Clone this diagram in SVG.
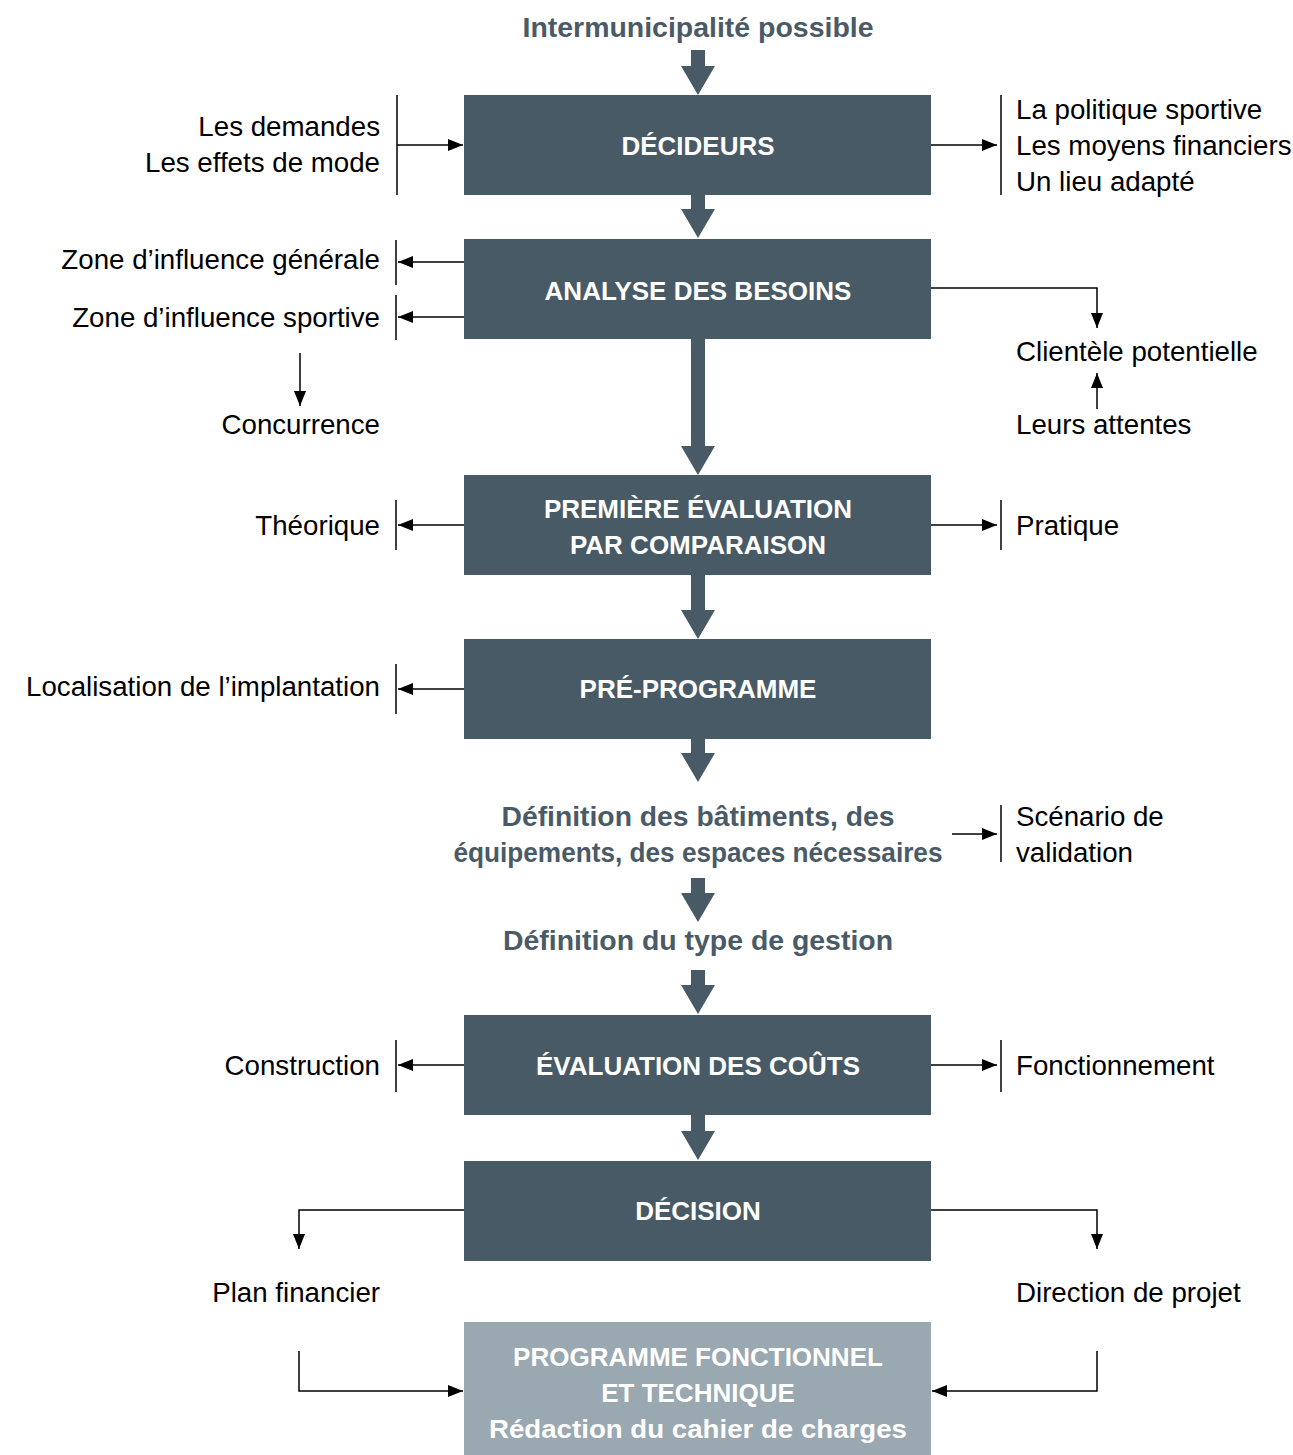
<svg xmlns="http://www.w3.org/2000/svg" width="1293" height="1455" viewBox="0 0 1293 1455">
<defs>
<marker id="ah" viewBox="0 0 15 12" refX="15" refY="6" markerWidth="15" markerHeight="12" markerUnits="userSpaceOnUse" orient="auto">
<path d="M0,0 L15,6 L0,12 z" fill="#000"/>
</marker>
<style>
.box{fill:#485a66}
.box2{fill:#9aa8b2}
.bt{font-family:"Liberation Sans",Arial,sans-serif;font-weight:bold;font-size:26px;fill:#fff;text-anchor:middle}
.lab{font-family:"Liberation Sans",Arial,sans-serif;font-size:27.7px;fill:#000}
.l{text-anchor:end}
.bl{font-family:"Liberation Sans",Arial,sans-serif;font-weight:bold;font-size:27px;fill:#4a5a67;text-anchor:middle}
.ln{stroke:#000;stroke-width:1.5;fill:none}
.ar{stroke:#000;stroke-width:1.5;fill:none;marker-end:url(#ah)}
.ta{fill:#485a66}
</style>
</defs>
<rect width="1293" height="1455" fill="#fff"/>

<g id="connectors">
<polygon class="ta" points="691,50 705,50 705,66 715,66 698,95 681,66 691,66"/>
<polygon class="ta" points="691,195 705,195 705,209 715,209 698,238 681,209 691,209"/>
<polygon class="ta" points="691,339 705,339 705,446 715,446 698,475 681,446 691,446"/>
<polygon class="ta" points="691,575 705,575 705,610 715,610 698,639 681,610 691,610"/>
<polygon class="ta" points="691,739 705,739 705,753 715,753 698,782 681,753 691,753"/>
<polygon class="ta" points="691,878 705,878 705,893 715,893 698,922 681,893 691,893"/>
<polygon class="ta" points="691,970 705,970 705,985 715,985 698,1014 681,985 691,985"/>
<polygon class="ta" points="691,1115 705,1115 705,1131 715,1131 698,1160 681,1131 691,1131"/>

<!-- row 1 -->
<line class="ln" x1="397" y1="95" x2="397" y2="195"/>
<line class="ar" x1="397" y1="145" x2="463" y2="145"/>
<line class="ar" x1="931" y1="145" x2="997" y2="145"/>
<line class="ln" x1="1001" y1="95" x2="1001" y2="195"/>

<!-- row 2 -->
<line class="ln" x1="396" y1="240" x2="396" y2="285"/>
<line class="ar" x1="464" y1="262" x2="398" y2="262"/>
<line class="ln" x1="396" y1="295" x2="396" y2="340"/>
<line class="ar" x1="464" y1="317" x2="398" y2="317"/>
<line class="ar" x1="300" y1="353" x2="300" y2="406"/>
<path class="ar" d="M931,288 H1097 V328"/>
<line class="ar" x1="1097" y1="409" x2="1097" y2="373"/>

<!-- row 3 -->
<line class="ln" x1="396" y1="500" x2="396" y2="550"/>
<line class="ar" x1="464" y1="525" x2="398" y2="525"/>
<line class="ar" x1="931" y1="525" x2="997" y2="525"/>
<line class="ln" x1="1001" y1="500" x2="1001" y2="550"/>

<!-- row 4 -->
<line class="ln" x1="396" y1="664" x2="396" y2="714"/>
<line class="ar" x1="464" y1="689" x2="398" y2="689"/>

<!-- scenario -->
<line class="ar" x1="952" y1="834" x2="997" y2="834"/>
<line class="ln" x1="1001" y1="805" x2="1001" y2="862"/>

<!-- row 5 -->
<line class="ln" x1="396" y1="1040" x2="396" y2="1092"/>
<line class="ar" x1="464" y1="1065" x2="398" y2="1065"/>
<line class="ar" x1="931" y1="1065" x2="997" y2="1065"/>
<line class="ln" x1="1001" y1="1040" x2="1001" y2="1092"/>

<!-- row 6 -->
<path class="ar" d="M464,1210 H299 V1249"/>
<path class="ar" d="M931,1210 H1097 V1249"/>
<path class="ar" d="M299,1351 V1391 H463"/>
<path class="ar" d="M1097,1351 V1391 H932"/>
</g>

<g id="title">
<text class="bl" x="698" y="37" textLength="351" lengthAdjust="spacingAndGlyphs">Intermunicipalité possible</text>
</g>

<g id="decideurs">
<rect class="box" x="464" y="95" width="467" height="100"/>
<text class="bt" x="698" y="155">DÉCIDEURS</text>
</g>
<g id="decideurs-in">
<text class="lab l" x="380" y="136">Les demandes</text>
<text class="lab l" x="380" y="172">Les effets de mode</text>
</g>
<g id="decideurs-out">
<text class="lab" x="1016" y="119">La politique sportive</text>
<text class="lab" x="1016" y="155">Les moyens financiers</text>
<text class="lab" x="1016" y="191">Un lieu adapté</text>
</g>

<g id="analyse">
<rect class="box" x="464" y="239" width="467" height="100"/>
<text class="bt" x="698" y="300">ANALYSE DES BESOINS</text>
</g>
<g id="zone-generale"><text class="lab l" x="380" y="269">Zone d’influence générale</text></g>
<g id="zone-sportive"><text class="lab l" x="380" y="327">Zone d’influence sportive</text></g>
<g id="concurrence"><text class="lab l" x="380" y="434">Concurrence</text></g>
<g id="clientele"><text class="lab" x="1016" y="361">Clientèle potentielle</text></g>
<g id="attentes"><text class="lab" x="1016" y="434">Leurs attentes</text></g>

<g id="premiere">
<rect class="box" x="464" y="475" width="467" height="100"/>
<text class="bt" x="698" y="518">PREMIÈRE ÉVALUATION</text>
<text class="bt" x="698" y="554">PAR COMPARAISON</text>
</g>
<g id="theorique"><text class="lab l" x="380" y="535">Théorique</text></g>
<g id="pratique"><text class="lab" x="1016" y="535">Pratique</text></g>

<g id="preprogramme">
<rect class="box" x="464" y="639" width="467" height="100"/>
<text class="bt" x="698" y="698">PRÉ-PROGRAMME</text>
</g>
<g id="localisation"><text class="lab l" x="380" y="696">Localisation de l’implantation</text></g>

<g id="definition-batiments">
<text class="bl" x="698" y="826" textLength="393" lengthAdjust="spacingAndGlyphs">Définition des bâtiments, des</text>
<text class="bl" x="698" y="862" textLength="489" lengthAdjust="spacingAndGlyphs">équipements, des espaces nécessaires</text>
</g>
<g id="scenario">
<text class="lab" x="1016" y="826">Scénario de</text>
<text class="lab" x="1016" y="862">validation</text>
</g>

<g id="definition-gestion">
<text class="bl" x="698" y="950" textLength="390" lengthAdjust="spacingAndGlyphs">Définition du type de gestion</text>
</g>

<g id="evaluation">
<rect class="box" x="464" y="1015" width="467" height="100"/>
<text class="bt" x="698" y="1075">ÉVALUATION DES COÛTS</text>
</g>
<g id="construction"><text class="lab l" x="380" y="1075">Construction</text></g>
<g id="fonctionnement"><text class="lab" x="1016" y="1075">Fonctionnement</text></g>

<g id="decision">
<rect class="box" x="464" y="1161" width="467" height="100"/>
<text class="bt" x="698" y="1220">DÉCISION</text>
</g>
<g id="plan"><text class="lab l" x="380" y="1302">Plan financier</text></g>
<g id="direction"><text class="lab" x="1016" y="1302">Direction de projet</text></g>

<g id="programme">
<rect class="box2" x="464" y="1322" width="467" height="133"/>
<text class="bt" x="698" y="1366">PROGRAMME FONCTIONNEL</text>
<text class="bt" x="698" y="1402">ET TECHNIQUE</text>
<text class="bt" x="698" y="1438" textLength="418" lengthAdjust="spacingAndGlyphs">Rédaction du cahier de charges</text>
</g>
</svg>
